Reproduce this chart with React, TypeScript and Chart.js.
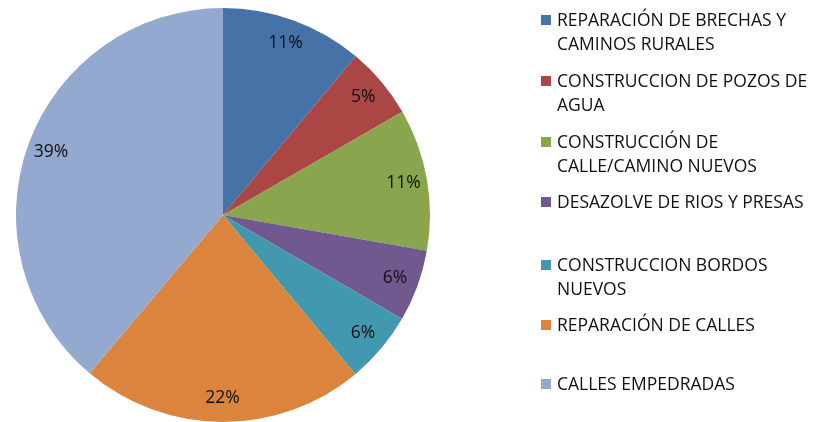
import React, { useEffect, useRef } from "react";
import { Chart, registerables } from "chart.js";

Chart.register(...registerables);

const categories = [
  "REPARACIÓN DE BRECHAS Y CAMINOS RURALES",
  "CONSTRUCCION DE POZOS DE AGUA",
  "CONSTRUCCIÓN DE CALLE/CAMINO NUEVOS",
  "DESAZOLVE DE RIOS Y PRESAS",
  "CONSTRUCCION BORDOS NUEVOS",
  "REPARACIÓN DE CALLES",
  "CALLES EMPEDRADAS",
];
const legendLines = [
  ["REPARACIÓN DE BRECHAS Y", "CAMINOS RURALES"],
  ["CONSTRUCCION DE POZOS DE", "AGUA"],
  ["CONSTRUCCIÓN DE", "CALLE/CAMINO NUEVOS"],
  ["DESAZOLVE DE RIOS Y PRESAS"],
  ["CONSTRUCCION BORDOS", "NUEVOS"],
  ["REPARACIÓN DE CALLES"],
  ["CALLES EMPEDRADAS"],
];
const values = [11.1, 5.6, 11.1, 5.6, 5.6, 22.2, 38.9];
const pctLabels = ["11%", "5%", "11%", "6%", "6%", "22%", "39%"];
const colors = ["#4572A7", "#AA4643", "#89A54E", "#71588F", "#4198AF", "#DB843D", "#93A9CF"];

const FONT = '17.5px "Open Sans"';
const TEXT_COLOR = "#111111";

const textPlugin = {
  id: "customText",
  afterDatasetsDraw(chart: any) {
    const ctx = chart.ctx as CanvasRenderingContext2D;
    const meta = chart.getDatasetMeta(0);
    ctx.save();
    ctx.font = FONT;
    const condense = Math.min(1, 233 / ctx.measureText("REPARACIÓN DE BRECHAS Y").width);
    ctx.fillStyle = TEXT_COLOR;
    ctx.textBaseline = "middle";
    ctx.textAlign = "center";
    meta.data.forEach((arc: any, i: number) => {
      const p = arc.getProps(["x", "y", "startAngle", "endAngle", "outerRadius"], true);
      const mid = (p.startAngle + p.endAngle) / 2;
      const r = p.outerRadius * 0.885;
      const tx = p.x + Math.cos(mid) * r;
      const ty = p.y + Math.sin(mid) * r;
      const w = ctx.measureText(pctLabels[i]).width;
      ctx.fillText(pctLabels[i], tx, ty, w * condense);
    });

    // legend
    const rowY = [20, 81, 142, 202, 265, 325, 384];
    const lineGap = 24;
    ctx.textAlign = "left";
    legendLines.forEach((lines, i) => {
      ctx.fillStyle = colors[i];
      ctx.fillRect(541, rowY[i] - 5, 10, 10);
      ctx.fillStyle = TEXT_COLOR;
      lines.forEach((ln, j) => {
        const w = ctx.measureText(ln).width;
        ctx.fillText(ln, 557, rowY[i] + j * lineGap + 1, w * condense);
      });
    });
    ctx.restore();
  },
};

export default function App() {
  const ref = useRef<HTMLCanvasElement>(null);
  useEffect(() => {
    document.body.style.margin = "0";
    const chart = new Chart(ref.current!, {
      type: "pie",
      data: {
        labels: categories,
        datasets: [
          {
            data: values,
            backgroundColor: colors,
            borderWidth: 0,
          },
        ],
      },
      options: {
        responsive: false,
        animation: false,
        layout: { padding: { left: 10, right: 377, top: 8, bottom: 0 } },
        plugins: {
          legend: { display: false },
          tooltip: { enabled: false },
        },
      },
      plugins: [textPlugin],
    });
    return () => chart.destroy();
  }, []);
  return (
    <div style={{ width: 813, height: 422, background: "#fff" }}>
      <canvas ref={ref} width={813} height={422} style={{ display: "block" }} />
    </div>
  );
}
